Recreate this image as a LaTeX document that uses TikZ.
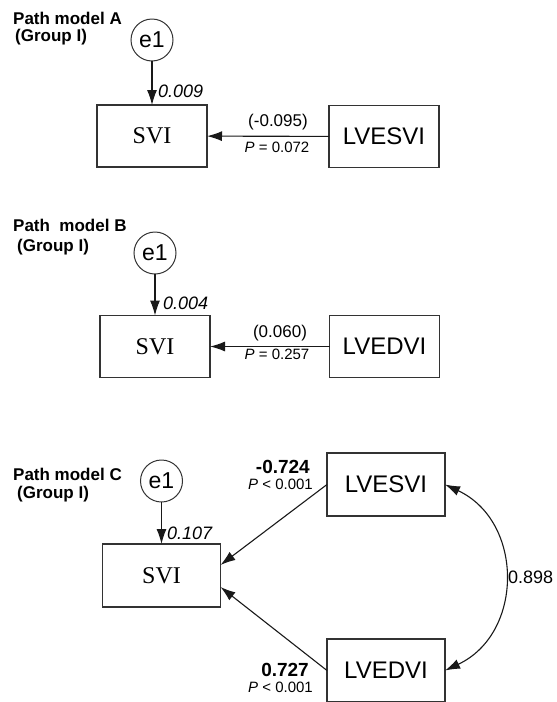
\documentclass[tikz,border=0pt]{standalone}
\usepackage{fontspec}
\setmainfont{Liberation Sans}
\newfontfamily\serfont{Liberation Serif}
\usetikzlibrary{arrows.meta}
\definecolor{ln}{HTML}{333333}

\tikzset{
  varbox/.style={draw=ln, line width=1.3pt, minimum width=110pt, minimum height=62pt,
    inner sep=0pt, outer sep=0pt, font=\fontsize{24}{24}\selectfont},
  widebox/.style={varbox, minimum width=118pt, minimum height=63pt},
  errnode/.style={draw=ln, circle, line width=1pt, minimum size=42pt, inner sep=0pt,
    outer sep=0pt, font=\fontsize{23}{23}\selectfont},
  regarrow/.style={-{Latex[length=15pt,width=10pt]}, line width=1.1pt, draw=black!90},
  covarrow/.style={{Latex[length=15pt,width=10pt]}-{Latex[length=15pt,width=10pt]}, line width=1.1pt, draw=black!90},
  title/.style={anchor=base west, inner sep=0pt, font=\bfseries\fontsize{17}{19}\selectfont},
  coef/.style={inner sep=0pt, font=\fontsize{17}{17}\selectfont},
  pval/.style={inner sep=0pt, font=\fontsize{15}{15}\selectfont},
  errvar/.style={anchor=west, inner sep=0pt, font=\itshape\fontsize{18}{18}\selectfont},
  boldcoef/.style={anchor=east, inner sep=0pt, font=\bfseries\fontsize{19}{19}\selectfont}
}

\begin{document}
\begin{tikzpicture}[x=1pt,y=-1pt]
  \useasboundingbox (0,0) rectangle (557,702);

  % model A
  \node[title] (titlea) at (13,24) {Path model A};
  \node[title] (groupa) at (15,41.5) {(Group I)};
  \node[errnode] (e1a) at (152,40) {e1};
  \node[varbox] (svia) at (152,136) {\serfont SVI};
  \node[varbox] (lvesvia) at (384,136.5) {LVESVI};
  \draw[regarrow] (e1a) -- (svia);
  \draw[regarrow] (lvesvia) -- (svia);
  \node[errvar] (erra) at (158,91) {0.009};
  \node[coef] (coefa) at (278,122) {(-0.095)};
  \node[pval] (pa) at (277,147.5) {\textit{P} = 0.072};

  % model B
  \node[title] (titleb) at (13,231.5) {Path\ \ model B};
  \node[title] (groupb) at (17,251.5) {(Group I)};
  \node[errnode] (e1b) at (155,253) {e1};
  \node[varbox] (svib) at (155,346.5) {\serfont SVI};
  \node[varbox] (lvedvib) at (384.5,346.5) {LVEDVI};
  \draw[regarrow] (e1b) -- (svib);
  \draw[regarrow] (lvedvib) -- (svib);
  \node[errvar] (errb) at (163,303) {0.004};
  \node[coef] (coefb) at (280,333) {(0.060)};
  \node[pval] (pb) at (277,354.5) {\textit{P} = 0.257};

  % model C
  \node[title] (titlec) at (13,480.5) {Path model C};
  \node[title] (groupc) at (17,498.5) {(Group I)};
  \node[errnode] (e1c) at (161.5,481) {e1};
  \node[widebox] (svic) at (161.5,575.5) {\serfont SVI};
  \node[widebox] (lvesvic) at (386,484.5) {LVESVI};
  \node[widebox] (lvedvic) at (386,670.5) {LVEDVI};
  \draw[regarrow] (e1c) -- (svic);
  \draw[regarrow] (lvesvic.west) -- ([yshift=10.5pt]svic.east);
  \draw[regarrow] (lvedvic.west) -- ([yshift=-11.5pt]svic.east);
  \draw[covarrow] (lvesvic.east) .. controls +(79,37) and +(79,-37) .. (lvedvic.east);
  \node[errvar] (errc) at (167,533) {0.107};
  \node[boldcoef] (coefc1) at (310,467) {-0.724};
  \node[pval, anchor=east] (pc1) at (313,484) {\textit{P} < 0.001};
  \node[boldcoef] (coefc2) at (309,670) {0.727};
  \node[pval, anchor=east] (pc2) at (313,687) {\textit{P} < 0.001};
  \node[coef, anchor=west, font=\fontsize{18}{18}\selectfont] (corr) at (508,577) {0.898};
\end{tikzpicture}
\end{document}
